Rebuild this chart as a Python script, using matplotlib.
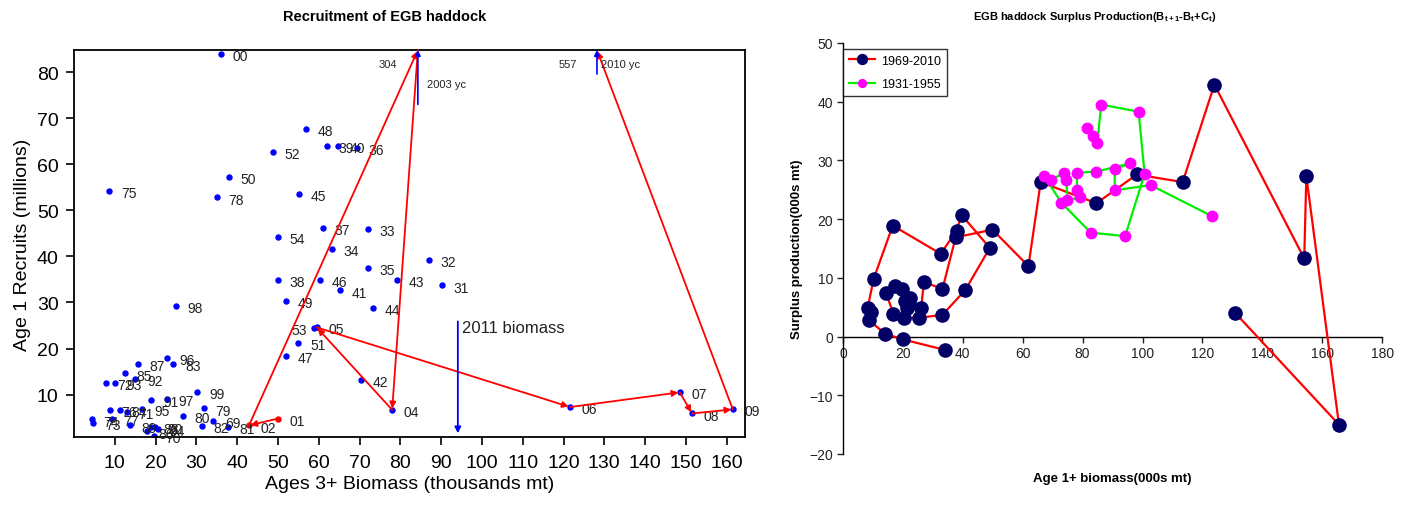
import numpy as np
import matplotlib.pyplot as plt

plt.rcParams['font.family'] = ['Liberation Sans', 'DejaVu Sans']
plt.rcParams['mathtext.default'] = 'regular'

### Left chart: recruitment vs ages 3+ biomass (labels are year, 2 digits)
yr_lbl = ['31', '32', '33', '34', '35', '36', '37', '38', '39', '40',
          '41', '42', '43', '44', '45', '46', '47', '48', '49', '50',
          '51', '52', '53', '54',
          '69', '70', '71', '72', '73', '74', '75', '76', '77', '78',
          '79', '80', '81', '82', '83', '84', '85', '86', '87', '88',
          '89', '90', '91', '92', '93', '94', '95', '96', '97', '98',
          '99', '00', '01', '02', '03', '04', '05', '06', '07', '08',
          '09', '10']
biomass3 = [90.2, 87.0, 72.0, 63.2, 72.0, 69.4, 61.0, 50.0, 62.0, 64.7,
            65.2, 70.3, 79.2, 73.3, 55.1, 60.3, 52.0, 56.9, 52.0, 38.0,
            55.0, 48.8, 58.8, 50.0,
            34.1, 19.6, 12.9, 7.8, 4.7, 4.4, 8.6, 8.8, 9.3, 35.0,
            31.8, 26.7, 37.7, 31.4, 24.3, 11.3, 12.5, 17.9, 15.7, 19.0,
            13.7, 19.9, 19.0, 15.0, 10.0, 20.6, 16.7, 22.9, 22.8, 24.9,
            30.2, 36.0, 50.0, 42.9, 84.3, 78.0, 59.5, 121.6, 148.5, 151.5,
            161.5, 128.2]
recruits = [33.7, 39.3, 45.9, 41.7, 37.4, 63.5, 46.1, 34.8, 63.9, 63.9,
            32.6, 13.2, 34.8, 28.9, 53.5, 34.8, 18.3, 67.6, 30.4, 57.2,
            21.2, 62.6, 24.4, 44.3,
            4.3, 1.1, 6.2, 12.5, 3.9, 4.6, 54.3, 6.7, 4.8, 52.8,
            7.0, 5.4, 3.0, 3.2, 16.7, 6.7, 14.6, 2.0, 16.7, 3.0,
            3.3, 3.0, 8.8, 13.3, 12.5, 2.6, 6.9, 18.0, 9.1, 29.3,
            10.6, 83.9, 4.8, 3.3, 304.0, 6.7, 24.6, 7.3, 10.5, 5.9,
            6.8, 557.0]
left_side_lbl = ['53']         # labels written left of their dot
recent_yrs = ['01', '02', '03', '04', '05', '06', '07', '08', '09', '10']
yc_yrs = ['03', '10']          # off-scale year classes
yc_arrow_base = [73.0, 79.6]   # where the blue off-scale arrows start
bio_2011 = 94.1

### Right chart: surplus production vs age 1+ biomass
sp_bio_69 = [34.2, 20.1, 14.0, 8.6, 9.5, 8.2, 10.2, 16.6, 32.6, 37.9,
             39.6, 49.0, 40.8, 33.2, 25.4, 20.4, 16.8, 14.4, 17.4, 19.6,
             22.4, 20.7, 22.0, 21.2, 26.1, 27.0, 33.2, 37.6, 49.9, 61.9,
             66.0, 84.6, 98.1, 113.4, 124.0, 154.0, 154.7, 165.6, 131.0]
sp_prod_69 = [-2.3, -0.5, 0.5, 2.8, 4.1, 4.8, 9.8, 18.9, 14.1, 18.0,
              20.7, 15.1, 7.9, 3.7, 3.2, 3.1, 3.9, 7.4, 8.6, 8.1,
              6.6, 6.1, 5.5, 4.8, 4.9, 9.3, 8.1, 16.9, 18.2, 12.0,
              26.3, 22.7, 27.6, 26.3, 42.9, 13.3, 27.3, -15.0, 4.0]
sp_bio_31 = [81.4, 83.4, 84.9, 86.2, 98.7, 100.7, 94.2, 82.7, 72.9, 67.1,
             69.3, 73.8, 74.6, 74.9, 79.0, 78.1, 78.1, 84.6, 95.9, 90.7,
             90.7, 102.7, 123.2]
sp_prod_31 = [35.5, 34.2, 32.9, 39.5, 38.3, 27.7, 17.1, 17.7, 22.8, 27.4,
              26.6, 27.9, 26.6, 23.2, 23.7, 24.9, 27.9, 28.1, 29.5, 28.5,
              24.9, 25.8, 20.5]

fig = plt.figure(figsize=(14.06, 5.06), dpi=100)
ax1 = fig.add_axes([0.0526, 0.1344, 0.4773, 0.7648])
ax2 = fig.add_axes([0.5996, 0.1008, 0.3834, 0.8123])

## ---- left chart
ymin, ymax = 0.8, 84.8
ax1.set_xlim(0, 164.5)
ax1.set_ylim(ymin, ymax)

pts = dict(zip(yr_lbl, zip(biomass3, recruits)))
for lb, (bx, rc) in pts.items():
    if rc > ymax:
        continue
    col = 'red' if lb in ('01', '02') else 'blue'
    ax1.plot(bx, rc, 'o', color=col, ms=3.6, mec=col)
    if lb in left_side_lbl:
        off, ha = (-5, -1.5), 'right'
    else:
        off, ha = (8.5, -1.5), 'left'
    ax1.annotate(lb, (bx, rc), xytext=off, textcoords='offset points',
                 va='center', ha=ha, fontsize=10, color='#222222')

# red trajectory arrows for recent years
for a, b in zip(recent_yrs[:-1], recent_yrs[1:]):
    x0, y0 = pts[a]
    x1, y1 = pts[b]
    ax1.annotate('', xy=(x1, min(y1, ymax)), xytext=(x0, min(y0, ymax)),
                 arrowprops=dict(arrowstyle='-|>', color='red', lw=1.3,
                                 mutation_scale=9, shrinkA=0, shrinkB=1),
                 annotation_clip=False)

# blue arrows + labels for off-scale year classes
for yc, base in zip(yc_yrs, yc_arrow_base):
    bx, rc = pts[yc]
    ax1.annotate('', xy=(bx, ymax), xytext=(bx, base),
                 arrowprops=dict(arrowstyle='-|>', color='blue', lw=1.2,
                                 mutation_scale=8, shrinkA=0, shrinkB=0),
                 annotation_clip=False)
    ax1.text(bx - 5, 81.7, str(int(rc)), ha='right', va='center', fontsize=8,
             color='#222222')
ax1.text(pts['03'][0] + 2.2, 77.4, '2003 yc', ha='left', va='center',
         fontsize=8, color='#222222')
ax1.text(pts['10'][0] + 1.0, 81.7, '2010 yc', ha='left', va='center',
         fontsize=8, color='#222222')

# 2011 biomass arrow
ax1.annotate('', xy=(bio_2011, 1.6), xytext=(bio_2011, 25.9),
             arrowprops=dict(arrowstyle='-|>', color='blue', lw=1.3,
                             mutation_scale=9, shrinkA=0, shrinkB=0))
ax1.text(bio_2011 + 1.0, 24.6, '2011 biomass', ha='left', va='center',
         fontsize=12, color='#222222')

ax1.set_xticks(np.arange(10, 161, 10))
ax1.set_yticks(np.arange(10, 81, 10))
ax1.tick_params(labelsize=14, length=6, width=1.2, direction='out',
                pad=5, colors='black')
ax1.tick_params(axis='x', pad=6)
for s in ax1.spines.values():
    s.set_linewidth(1.3)
ax1.set_xlabel('Ages 3+ Biomass (thousands mt)', fontsize=14, labelpad=3)
ax1.set_ylabel('Age 1 Recruits (millions)', fontsize=14, labelpad=4)

fig.text(385 / 1406, 1 - 17 / 506, 'Recruitment of EGB haddock', ha='center',
         va='center', weight='bold', fontsize=10.5)

## ---- right chart
ax2.set_xlim(0, 180)
ax2.set_ylim(-20, 50)
ax2.plot(sp_bio_69, sp_prod_69, '-o', color='red', lw=1.6, ms=9.5,
         mfc='#000066', mec='#000066', label='1969-2010', zorder=3)
ax2.plot(sp_bio_31, sp_prod_31, '-o', color='#00EE00', lw=1.6, ms=7.5,
         mfc='#FF00FF', mec='#FF00FF', label='1931-1955', zorder=4)

ax2.spines['top'].set_visible(False)
ax2.spines['right'].set_visible(False)
ax2.spines['bottom'].set_position(('data', 0))
ax2.spines['left'].set_linewidth(1.0)
ax2.spines['bottom'].set_linewidth(1.0)
ax2.set_xticks(np.arange(0, 181, 20))
ax2.set_yticks(np.arange(-20, 51, 10))
ax2.tick_params(labelsize=10, length=4, width=1, direction='out', pad=3,
                colors='#222222')
ax2.set_xlabel('Age 1+ biomass(000s mt)', fontsize=9.5, weight='bold')
ax2.xaxis.set_label_coords(0.5, -0.045)
ax2.set_ylabel('Surplus production(000s mt)', fontsize=9.5, weight='bold')
ax2.yaxis.set_label_coords(-0.075, 0.5)

leg = ax2.legend(loc='upper left', bbox_to_anchor=(0.0, 0.985),
                 borderaxespad=0, fancybox=False, fontsize=9,
                 handlelength=2.1, handletextpad=0.5, borderpad=0.45,
                 labelspacing=0.9, markerscale=0.75)
leg.get_frame().set_edgecolor('black')
leg.get_frame().set_linewidth(1.0)

fig.text(1095 / 1406, 1 - 17 / 506,
         r'EGB haddock Surplus Production(B$_{t+1}$-B$_t$+C$_t$)',
         ha='center', va='center', weight='bold', fontsize=8)

fig.savefig('out.png', dpi=100)
